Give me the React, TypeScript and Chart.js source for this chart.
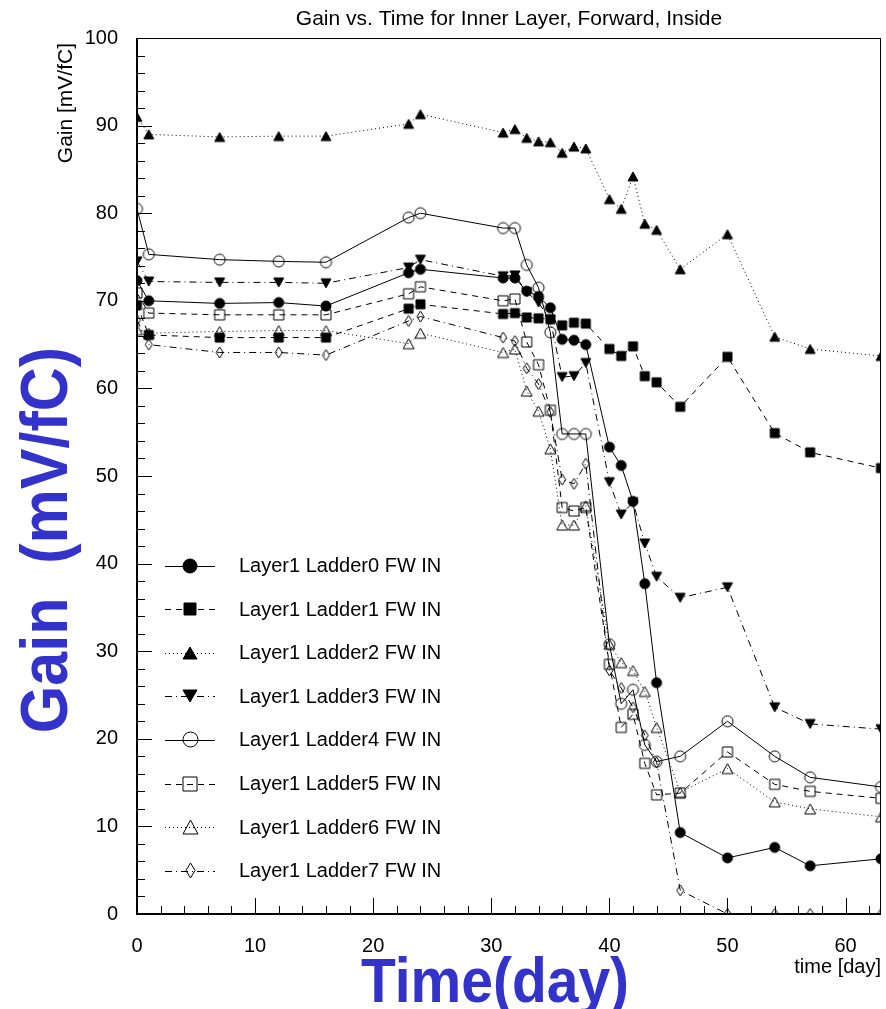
import React, { useEffect, useRef } from 'react';
import { Chart, registerables } from 'chart.js';

Chart.register(...registerables);

// ---------- data ----------
const days = [0, 1, 7, 12, 16, 23, 24, 31, 32, 33, 34, 35, 36, 37, 38, 40, 41, 42, 43, 44, 46, 50, 54, 57, 63];

const ladder0 = [72.3, 70.0, 69.7, 69.8, 69.4, 73.2, 73.6, 72.6, 72.6, 71.1, 70.5, 69.2, 65.6, 65.5, 65.0, 53.3, 51.2, 47.1, 37.7, 26.4, 9.3, 6.4, 7.6, 5.5, 6.3];
const ladder1 = [69.5, 66.1, 65.8, 65.8, 65.8, 69.1, 69.6, 68.5, 68.6, 68.1, 68.0, 67.9, 67.2, 67.5, 67.4, 64.5, 63.7, 64.8, 61.4, 60.7, 57.9, 63.6, 54.9, 52.7, 50.9];
const ladder2 = [91.0, 89.0, 88.7, 88.8, 88.8, 90.2, 91.3, 89.2, 89.6, 88.6, 88.2, 88.1, 86.9, 87.6, 87.4, 81.6, 80.5, 84.2, 78.8, 78.1, 73.6, 77.6, 65.9, 64.5, 63.7];
const ladder3 = [74.5, 72.2, 72.1, 72.1, 72.0, 73.8, 74.7, 72.8, 72.9, 71.0, 69.8, 67.8, 61.3, 61.4, 62.9, 49.3, 45.6, 47.0, 42.3, 38.5, 36.1, 37.3, 23.6, 21.7, 21.1];
const ladder4 = [80.5, 75.3, 74.7, 74.5, 74.4, 79.5, 80.0, 78.3, 78.3, 74.1, 71.5, 66.4, 54.8, 54.8, 54.8, 30.8, 24.0, 25.6, 19.3, 17.4, 18.0, 22.0, 18.0, 15.6, 14.5];
const ladder5 = [70.9, 68.6, 68.4, 68.4, 68.4, 70.8, 71.6, 70.0, 70.2, 65.3, 62.7, 57.5, 46.4, 46.0, 46.4, 28.5, 21.3, 22.8, 17.2, 13.6, 13.8, 18.5, 14.8, 14.0, 13.2];
const ladder6 = [66.7, 66.3, 66.5, 66.6, 66.6, 65.1, 66.3, 64.1, 64.5, 59.7, 57.4, 53.1, 44.4, 44.4, 46.6, 30.8, 28.7, 27.8, 25.4, 21.3, 13.9, 16.6, 12.8, 12.0, 11.1];
const ladder7 = [67.8, 65.0, 64.1, 64.1, 63.8, 67.7, 68.2, 65.8, 65.4, 62.3, 60.5, 57.3, 49.6, 49.1, 51.4, 27.8, 25.8, 23.6, 20.4, 17.3, 2.7, 0, 0, 0, 0];

const seriesValues = [ladder0, ladder1, ladder2, ladder3, ladder4, ladder5, ladder6, ladder7];
const seriesLabels = [
  'Layer1 Ladder0 FW IN',
  'Layer1 Ladder1 FW IN',
  'Layer1 Ladder2 FW IN',
  'Layer1 Ladder3 FW IN',
  'Layer1 Ladder4 FW IN',
  'Layer1 Ladder5 FW IN',
  'Layer1 Ladder6 FW IN',
  'Layer1 Ladder7 FW IN',
];
const xTickValues = [0, 10, 20, 30, 40, 50, 60];
const yTickValues = [0, 10, 20, 30, 40, 50, 60, 70, 80, 90, 100];

const titleText = 'Gain vs. Time for Inner Layer, Forward, Inside';
const smallYTitle = 'Gain [mV/fC]';
const smallXTitle = 'time [day]';
const bigYTitle = 'Gain  (mV/fC)';
const bigXTitle = 'Time(day)';

// ---------- styles ----------
const FONT = '"Liberation Sans", Arial, sans-serif';
const BLUE = 'rgb(51,51,204)';

type Shape = 'circle' | 'square' | 'triUp' | 'triDown' | 'diamond';
const markerSpecs: { shape: Shape; filled: boolean; w: number; h: number }[] = [
  { shape: 'circle', filled: true, w: 10, h: 10 },
  { shape: 'square', filled: true, w: 9, h: 9 },
  { shape: 'triUp', filled: true, w: 10, h: 9 },
  { shape: 'triDown', filled: true, w: 10, h: 9 },
  { shape: 'circle', filled: false, w: 11, h: 11 },
  { shape: 'square', filled: false, w: 10, h: 10 },
  { shape: 'triUp', filled: false, w: 11, h: 10 },
  { shape: 'diamond', filled: false, w: 7, h: 11 },
];
const dashes: number[][] = [[], [6, 5], [1, 3], [7, 4, 1, 4], [], [6, 5], [1, 3], [7, 4, 1, 4]];

function makeMarker(shape: Shape, filled: boolean, w: number, h: number): HTMLCanvasElement {
  const W = Math.ceil(w) + 4;
  const H = Math.ceil(h) + 4;
  const c = document.createElement('canvas');
  c.width = W;
  c.height = H;
  const g = c.getContext('2d')!;
  const cx = W / 2;
  const cy = H / 2;
  g.beginPath();
  if (shape === 'circle') {
    g.arc(cx, cy, w / 2, 0, Math.PI * 2);
  } else if (shape === 'square') {
    g.rect(cx - w / 2, cy - h / 2, w, h);
  } else if (shape === 'triUp') {
    g.moveTo(cx, cy - h / 2);
    g.lineTo(cx + w / 2, cy + h / 2);
    g.lineTo(cx - w / 2, cy + h / 2);
    g.closePath();
  } else if (shape === 'triDown') {
    g.moveTo(cx, cy + h / 2);
    g.lineTo(cx + w / 2, cy - h / 2);
    g.lineTo(cx - w / 2, cy - h / 2);
    g.closePath();
  } else {
    g.moveTo(cx, cy - h / 2);
    g.lineTo(cx + w / 2, cy);
    g.lineTo(cx, cy + h / 2);
    g.lineTo(cx - w / 2, cy);
    g.closePath();
  }
  if (filled) {
    g.fillStyle = '#000';
    g.fill();
  }
  g.strokeStyle = '#000';
  g.lineWidth = 1;
  g.stroke();
  return c;
}

export default function App() {
  const ref = useRef<HTMLCanvasElement>(null);

  useEffect(() => {
    const dataMarkers = markerSpecs.map((m) => makeMarker(m.shape, m.filled, m.w, m.h));
    const legendMarkers = markerSpecs.map((m) => makeMarker(m.shape, m.filled, Math.round(m.w * 1.35), Math.round(m.h * 1.35)));

    const datasets = seriesValues.map((vals, i) => ({
      label: seriesLabels[i],
      data: days.map((d, j) => ({ x: d, y: vals[j] })),
      borderColor: '#000',
      borderWidth: 1,
      borderDash: dashes[i],
      pointStyle: dataMarkers[i],
      pointRadius: 4,
      tension: 0,
      clip: 0,
    }));

    const decor = {
      id: 'decor',
      afterDatasetsDraw(chart: any) {
        const ctx = chart.ctx as CanvasRenderingContext2D;
        const { left, right, top, bottom } = chart.chartArea;
        const xs = chart.scales.x;
        const ys = chart.scales.y;
        ctx.save();
        ctx.strokeStyle = '#000';
        ctx.setLineDash([]);
        ctx.lineWidth = 1;
        ctx.strokeRect(left + 0.5, top + 0.5, right - left - 1, bottom - top - 1);
        ctx.lineWidth = 2;
        ctx.beginPath();
        ctx.moveTo(left, top);
        ctx.lineTo(left, bottom);
        ctx.lineTo(right, bottom);
        ctx.stroke();
        ctx.lineWidth = 1;
        ctx.beginPath();
        for (let v = 0; v <= 62; v += 2) {
          const px = Math.round(xs.getPixelForValue(v)) + 0.5;
          const len = v % 10 === 0 ? 16 : 8;
          ctx.moveTo(px, bottom);
          ctx.lineTo(px, bottom - len);
        }
        for (let v = 0; v <= 100; v += 2) {
          const py = Math.round(ys.getPixelForValue(v)) + 0.5;
          const len = v % 10 === 0 ? 15 : 8;
          ctx.moveTo(left, py);
          ctx.lineTo(left + len, py);
        }
        ctx.stroke();
        ctx.restore();
      },
      afterDraw(chart: any) {
        const ctx = chart.ctx as CanvasRenderingContext2D;
        const { left, right } = chart.chartArea;
        ctx.save();
        ctx.fillStyle = '#000';
        // title
        ctx.font = `21px ${FONT}`;
        ctx.textAlign = 'center';
        ctx.textBaseline = 'middle';
        ctx.fillText(titleText, (left + right) / 2, 19);
        // small axis titles
        ctx.font = `21px ${FONT}`;
        ctx.save();
        ctx.translate(66, 43);
        ctx.rotate(-Math.PI / 2);
        ctx.textAlign = 'right';
        ctx.textBaseline = 'middle';
        ctx.fillText(smallYTitle, 0, 0);
        ctx.restore();
        ctx.font = `20px ${FONT}`;
        ctx.textAlign = 'right';
        ctx.textBaseline = 'middle';
        ctx.fillText(smallXTitle, 881, 967);
        // big blue titles
        ctx.fillStyle = BLUE;
        ctx.font = `bold 57px ${FONT}`;
        ctx.save();
        ctx.translate(495, 1002);
        ctx.scale(1, 1.12);
        ctx.textAlign = 'center';
        ctx.textBaseline = 'alphabetic';
        ctx.fillText(bigXTitle, 0, 0);
        ctx.restore();
        ctx.font = `bold 61px ${FONT}`;
        ctx.save();
        ctx.translate(67, 540);
        ctx.rotate(-Math.PI / 2);
        ctx.scale(1, 1.1);
        ctx.textAlign = 'center';
        ctx.textBaseline = 'alphabetic';
        ctx.fillText(bigYTitle, 0, 0);
        ctx.restore();
        // legend
        ctx.fillStyle = '#000';
        ctx.strokeStyle = '#000';
        ctx.lineWidth = 1;
        ctx.font = `20px ${FONT}`;
        ctx.textAlign = 'left';
        ctx.textBaseline = 'middle';
        seriesLabels.forEach((lab, i) => {
          const y = 565.5 + i * 43.6;
          const yy = Math.round(y) + 0.5;
          ctx.setLineDash(dashes[i]);
          ctx.beginPath();
          ctx.moveTo(165, yy);
          ctx.lineTo(215, yy);
          ctx.stroke();
          ctx.setLineDash([]);
          const m = legendMarkers[i];
          ctx.drawImage(m, Math.round(190 - m.width / 2), Math.round(y - m.height / 2));
          ctx.fillText(lab, 239, y + 1);
        });
        ctx.restore();
      },
    };

    const chart = new Chart(ref.current!, {
      type: 'line',
      data: { datasets: datasets as any },
      options: {
        responsive: false,
        animation: false,
        devicePixelRatio: 1,
        events: [],
        layout: { padding: { left: 8, top: 38, right: 2, bottom: 0 } },
        plugins: {
          legend: { display: false },
          title: { display: false },
          tooltip: { enabled: false },
        },
        scales: {
          x: {
            type: 'linear',
            min: 0,
            max: 63,
            grid: { display: false },
            border: { display: false },
            ticks: {
              color: '#000',
              font: { family: FONT, size: 20 },
              padding: 12,
              maxRotation: 0,
              autoSkip: false,
            },
            afterBuildTicks: (s: any) => {
              s.ticks = xTickValues.map((v) => ({ value: v }));
            },
            afterFit: (s: any) => {
              s.height = 95;
            },
          },
          y: {
            type: 'linear',
            min: 0,
            max: 100,
            grid: { display: false },
            border: { display: false },
            ticks: {
              color: '#000',
              font: { family: FONT, size: 20 },
              padding: 11,
              autoSkip: false,
            },
            afterBuildTicks: (s: any) => {
              s.ticks = yTickValues.map((v) => ({ value: v }));
            },
            afterFit: (s: any) => {
              s.width = 129;
            },
          },
        },
      },
      plugins: [decor],
    } as any);
    return () => chart.destroy();
  }, []);

  return (
    <canvas
      ref={ref}
      width={886}
      height={1009}
      style={{ position: 'absolute', left: 0, top: 0, width: 886, height: 1009, background: '#fff' }}
    />
  );
}
